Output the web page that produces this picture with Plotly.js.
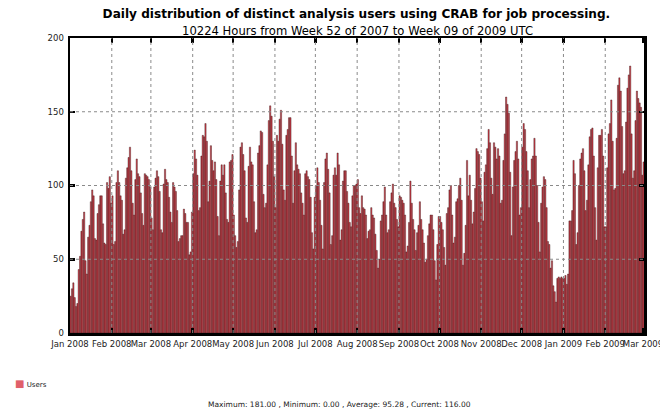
<!DOCTYPE html>
<html><head><meta charset="utf-8">
<script src="https://cdn.plot.ly/plotly-3.0.1.min.js"></script>
<style>html,body{margin:0;padding:0;background:#fff}</style>
</head><body><div id="chart" style="width:660px;height:410px"></div>
<script>
// First day of each block of daily values
const monthStarts = ['2008-01-01','2008-02-01','2008-03-01','2008-04-01','2008-05-01','2008-06-01','2008-07-01','2008-08-01','2008-09-01','2008-10-01','2008-11-01','2008-12-01','2009-01-01','2009-02-01','2009-03-01'];
// Daily distinct CRAB users
const jan08 = [25,30,34,24,18,20,43,52,69,77,82,49,40,65,73,89,97,93,64,63,81,87,93,93,74,61,60,102,98,106,88];
const feb08 = [93,60,62,102,110,102,93,90,67,70,105,112,119,126,110,88,80,104,118,108,106,95,81,73,108,107,106,104,99];
const mar08 = [78,70,99,105,110,106,96,70,68,101,111,104,102,92,82,75,102,99,96,83,62,64,66,66,84,81,75,75,53,55,82];
const apr08 = [108,124,118,107,83,85,120,134,133,142,130,89,103,127,117,110,116,104,79,66,103,114,107,114,95,77,75,116,117,121];
const may08 = [80,66,58,62,97,126,129,121,110,78,75,113,126,116,114,89,68,70,122,127,137,136,94,85,88,114,144,154,147,130,106];
const jun08 = [85,134,130,145,151,128,97,90,134,138,146,146,120,88,110,129,114,111,108,95,88,80,108,110,106,104,92,68,57,92];
const jul08 = [100,112,102,90,73,57,102,118,122,111,95,60,66,107,112,107,122,114,63,70,103,110,110,96,88,75,72,93,100,100,101];
const aug08 = [104,85,81,93,85,84,80,64,69,70,85,80,78,67,56,44,50,76,80,89,99,80,68,70,89,95,101,88,85,77,72];
const sep08 = [93,92,90,88,80,55,59,75,103,88,77,70,56,68,73,89,77,70,61,48,50,66,74,80,80,70,49,36,60,79];
const oct08 = [79,75,70,58,46,81,85,97,100,80,61,65,89,91,100,105,90,46,54,73,117,93,107,90,74,82,98,125,123,121,105];
const nov08 = [89,76,109,114,125,138,129,105,94,129,126,118,125,120,88,90,117,135,160,155,149,109,66,99,117,123,130,118,80,85];
const dec08 = [126,142,138,123,110,85,104,118,120,132,120,100,75,55,88,99,106,104,85,62,60,44,49,32,28,21,37,38,37,38,37];
const jan09 = [37,39,33,40,76,76,83,117,108,60,68,100,118,122,125,110,83,90,114,133,138,139,120,85,63,112,134,134,138,120,72];
const feb09 = [72,112,135,142,158,130,97,98,132,168,173,164,140,108,110,143,166,175,181,135,105,110,144,164,159,156,153,107];
const mar09 = [116];
const monthValues = [jan08,feb08,mar08,apr08,may08,jun08,jul08,aug08,sep08,oct08,nov08,dec08,jan09,feb09,mar09];
const yTicks = [0,50,100,150,200];

const titleText = 'Daily distribution of distinct analysis users using CRAB for job processing.';
const subtitleText = '10224 Hours from Week 52 of 2007 to Week 09 of 2009 UTC';
const footerText = 'Maximum: 181.00 , Minimum: 0.00 , Average: 95.28 , Current: 116.00';
const seriesName = 'Users';

const pad = n => String(n).padStart(2,'0');
const xs = [], ys = [];
monthStarts.forEach((s, i) => {
  const [Y, M] = s.split('-').map(Number);
  monthValues[i].forEach((v, j) => {
    xs.push(`${Y}-${pad(M)}-${pad(j+1)} 12:00`);
    ys.push(v);
  });
});

const font = 'DejaVu Sans';
const trace = {
  type: 'bar', x: xs, y: ys, name: seriesName,
  width: 86400000 * 0.92,
  marker: {color: '#d8404c', line: {color: '#2a0e0e', width: 0.4}},
  showlegend: false
};
const axisCommon = {
  showline: true, linecolor: '#000', linewidth: 2.5, mirror: 'ticks',
  ticks: 'inside', ticklen: 5, tickwidth: 2.5, tickcolor: '#000',
  showgrid: false, zeroline: false, layer: 'above traces',
  tickfont: {family: font, size: 8.5, color: '#222'}
};
// dotted guide lines drawn over the bars, at the tick positions
const gridStyle = {color: '#8a8a8a', width: 1, dash: 'dot'};
const shapes = [];
monthStarts.slice(1, -1).forEach(d => shapes.push({type: 'line', xref: 'x', yref: 'paper', x0: d, x1: d, y0: 0, y1: 1, line: gridStyle, layer: 'above'}));
yTicks.slice(1, -1).forEach(v => shapes.push({type: 'line', xref: 'paper', yref: 'y', x0: 0, x1: 1, y0: v, y1: v, line: gridStyle, layer: 'above'}));

const layout = {
  width: 660, height: 410,
  margin: {l: 70, r: 16, t: 38, b: 77},
  paper_bgcolor: '#fff', plot_bgcolor: '#fff',
  bargap: 0,
  title: {text: '<b>' + titleText + '</b>', font: {family: font, size: 12.1, color: '#000'}, x: 0.54, xanchor: 'center', y: 0.966, yanchor: 'middle'},
  xaxis: Object.assign({}, axisCommon, {
    type: 'date', range: ['2008-01-01', '2009-03-01 18:00'],
    tick0: '2008-01-01', dtick: 'M1', tickformat: '%b %Y', tickangle: 0, ticklabelstandoff: 1,
    ticklabeloverflow: 'allow'
  }),
  yaxis: Object.assign({}, axisCommon, {
    range: [0, 200], tickvals: yTicks, ticklabelstandoff: 2
  }),
  showlegend: false,
  shapes: shapes,
  annotations: [
    {text: subtitleText, xref: 'paper', yref: 'paper', x: 0.5, y: 1.024, xanchor: 'center', yanchor: 'middle', showarrow: false, font: {family: font, size: 11.6, color: '#000'}},
    {text: '<span style="color:#e0606a;font-size:10px">■</span> ' + seriesName, xref: 'paper', yref: 'paper', x: -0.1, y: -0.17, xanchor: 'left', yanchor: 'middle', showarrow: false, font: {family: font, size: 7, color: '#222'}},
    {text: footerText, xref: 'paper', yref: 'paper', x: 0.47, y: -0.242, xanchor: 'center', yanchor: 'middle', showarrow: false, font: {family: font, size: 7.5, color: '#222'}}
  ]
};
Plotly.newPlot('chart', [trace], layout, {staticPlot: true, displayModeBar: false});
</script></body></html>
